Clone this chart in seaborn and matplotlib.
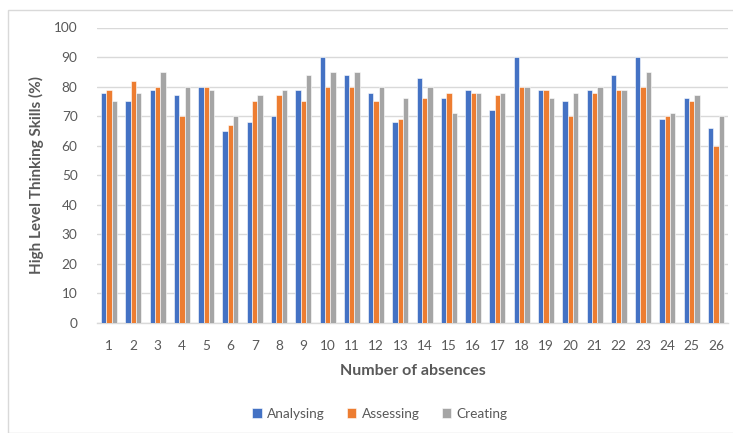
import matplotlib
matplotlib.use("Agg")
import matplotlib.pyplot as plt
import seaborn as sns
import pandas as pd
from matplotlib.patches import Rectangle

absences = [str(i) for i in range(1, 27)]
analysing = [78, 75, 79, 77, 80, 65, 68, 70, 79, 90, 84, 78, 68, 83, 76, 79, 72, 90, 79, 75, 79, 84, 90, 69, 76, 66]
assessing = [79, 82, 80, 70, 80, 67, 75, 77, 75, 80, 80, 75, 69, 76, 78, 78, 77, 80, 79, 70, 78, 79, 80, 70, 75, 60]
creating = [75, 78, 85, 80, 79, 70, 77, 79, 84, 85, 85, 80, 76, 80, 71, 78, 78, 80, 76, 78, 80, 79, 85, 71, 77, 70]
skills = ["Analysing", "Assessing", "Creating"]
palette = ["#4472C4", "#ED7D31", "#A5A5A5"]

df = pd.DataFrame({
    "absences": absences * 3,
    "skill": [s for s in skills for _ in absences],
    "score": analysing + assessing + creating,
})

sns.set_theme(style="white")
plt.rcParams["font.family"] = ["Lato", "DejaVu Sans"]
text_color = "#595959"

fig = plt.figure(figsize=(7.33, 4.33), dpi=100)
W, H = 733, 433
ax = fig.add_axes([97 / W, 1 - 323 / H, (728 - 97) / W, (323 - 27.5) / H])

# chart area border
fig.patches.append(Rectangle((8 / W, 0), 1.2, 1 - 10 / H, transform=fig.transFigure,
                             fill=False, edgecolor="#d9d9d9", linewidth=1.0))

sns.barplot(data=df, x="absences", y="score", hue="skill", order=absences,
            hue_order=skills, palette=palette, width=0.66, saturation=1,
            edgecolor="white", linewidth=0.4, errorbar=None, ax=ax, zorder=3)

ax.set_ylim(0, 100)
ax.set_yticks(range(0, 101, 10))
ax.set_xlim(-0.5, 25.5)
ax.grid(axis="y", color="#d9d9d9", linewidth=1.0, zorder=0)
ax.set_axisbelow(True)
for side in ["top", "right", "left"]:
    ax.spines[side].set_visible(False)
ax.spines["bottom"].set_color("#d9d9d9")
ax.spines["bottom"].set_linewidth(1.0)
ax.tick_params(axis="both", length=0, labelsize=9.8, labelcolor=text_color)
ax.tick_params(axis="x", pad=12)
ax.tick_params(axis="y", pad=14)

ax.set_xlabel("Number of absences", fontsize=11.5, fontweight="bold", color=text_color, labelpad=9)
ax.set_ylabel("High Level Thinking Skills (%)", fontsize=11, fontweight="bold", color=text_color, labelpad=7)

handles, labels = ax.get_legend_handles_labels()
ax.get_legend().remove()
fig.legend(handles, labels, loc="center", bbox_to_anchor=(380 / W, 1 - 414 / H), ncol=3,
           frameon=False, fontsize=9.8, labelcolor=text_color, handlelength=0.7,
           handleheight=0.7, handletextpad=0.4, columnspacing=1.6)

fig.savefig("out.png", dpi=100)
